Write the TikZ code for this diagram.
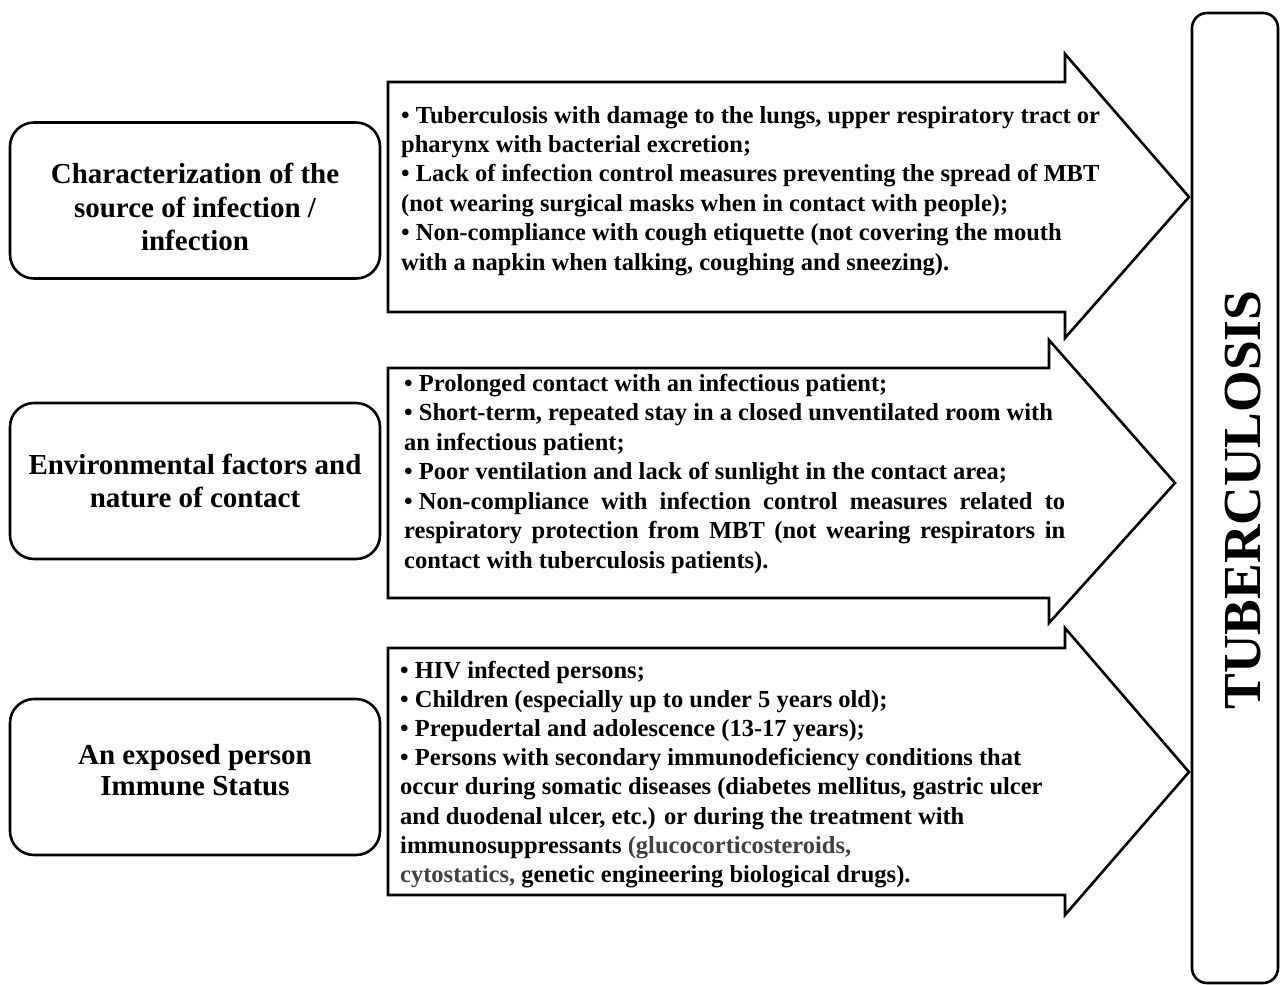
\documentclass[tikz,border=0pt]{standalone}
\usepackage{fontspec}
\setmainfont{Liberation Serif}
\definecolor{gtxt}{rgb}{0.25,0.25,0.25}
\begin{document}
\begin{tikzpicture}[x=1pt,y=-1pt,
  lbox/.style={draw, line width=2.6pt, rounded corners=24pt, minimum width=370pt, minimum height=156pt,
    align=center, inner sep=0pt, font=\bfseries\fontsize{29}{33.5}\selectfont},
  blockarrow/.style={draw, line width=2.6pt, line join=miter},
  txt/.style={inner sep=0pt, anchor=base west},
  tbox/.style={draw, line width=2.6pt, rounded corners=15pt, minimum width=86pt, minimum height=970pt, inner sep=0pt}
]
\useasboundingbox (0,0) rectangle (1280,985);

% left boxes
\node[lbox] (src) at (195,200.5) {};
\node[align=center, inner sep=0pt, font=\bfseries\fontsize{29}{33.5}\selectfont] (srct) at (195,207)
  {Characterization of the\\source of infection /\\infection};
\node[lbox] (env) at (195,481) {Environmental factors and\\nature of contact};
\node[lbox] (imm) at (195,777) {};
\node[align=center, inner sep=0pt, font=\bfseries\fontsize{29}{30.5}\selectfont] (immt) at (195,770)
  {An exposed person\\Immune Status};

% block arrows
\draw[blockarrow] (388,82) coordinate (a1) -- (1065,82) -- (1065,54) -- (1189,197) coordinate (tip1) -- (1065,338) -- (1065,312) -- (388,312) -- cycle;
\draw[blockarrow] (388,368) coordinate (a2) -- (1049,368) -- (1049,340) -- (1175,483) coordinate (tip2) -- (1049,623) -- (1049,598) -- (388,598) -- cycle;
\draw[blockarrow] (388,648) coordinate (a3) -- (1065,648) -- (1065,628) -- (1189,772) coordinate (tip3) -- (1065,915) -- (1065,895) -- (388,895) -- cycle;

% arrow texts
\node[txt] (t1) at (401,123) {\parbox[t]{720pt}{\raggedright\bfseries\fontsize{24.5}{29.4}\selectfont
• Tuberculosis with damage to the lungs, upper respiratory tract or\\
pharynx with bacterial excretion;\\
• Lack of infection control measures preventing the spread of MBT\\
(not wearing surgical masks when in contact with people);\\
• Non-compliance with cough etiquette (not covering the mouth\\
with a napkin when talking, coughing and sneezing).}};

\node[txt] (t2) at (404,391) {\parbox[t]{662pt}{\raggedright\bfseries\fontsize{24.5}{29.5}\selectfont
• Prolonged contact with an infectious patient;\\
• Short-term, repeated stay in a closed unventilated room with\\
an infectious patient;\\
• Poor ventilation and lack of sunlight in the contact area;\\
\makebox[661pt][s]{•\hspace{0.25em}Non-compliance with infection control measures related to}\\
\makebox[661pt][s]{respiratory protection from MBT (not wearing respirators in}\\
contact with tuberculosis patients).}};

\node[txt] (t3) at (400,678) {\parbox[t]{700pt}{\raggedright\bfseries\fontsize{24.5}{29.2}\selectfont
• HIV infected persons;\\
• Children (especially up to under 5 years old);\\
• Prepudertal and adolescence (13-17 years);\\
• Persons with secondary immunodeficiency conditions that\\
occur during somatic diseases (diabetes mellitus, gastric ulcer\\
and duodenal ulcer, etc.) or during the treatment with\\
immunosuppressants {\color{gtxt}(glucocorticosteroids,}\\
{\color{gtxt}cytostatics,} genetic engineering biological drugs).}};

% right box
\node[tbox] (tb) at (1235,498) {};
\node[rotate=90, inner sep=0pt, font=\bfseries\fontsize{53.5}{60}\selectfont] (tblabel) at (1243,500) {TUBERCULOSIS};
\end{tikzpicture}
\end{document}
